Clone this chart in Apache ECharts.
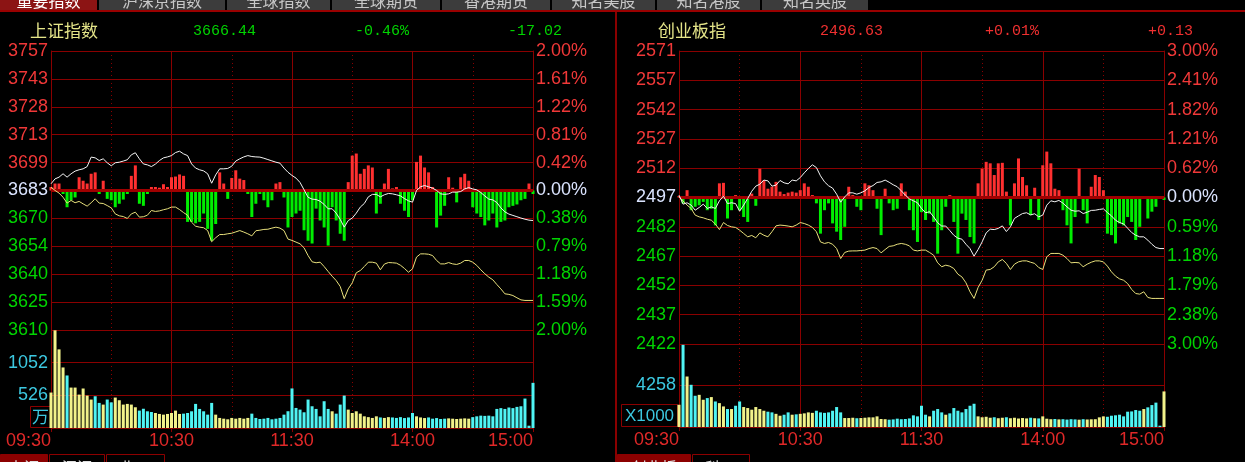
<!DOCTYPE html>
<html><head><meta charset="utf-8">
<script src="https://cdn.jsdelivr.net/npm/echarts@6/dist/echarts.min.js"></script>
<style>html,body{margin:0;padding:0;background:#000;}#c{width:1245px;height:462px;}</style>
</head><body><div id="c"></div><script>
// ---------- data (2-minute samples, 09:30 .. 15:00) ----------
const tabs = ['重要指数','沪深京指数','全球指数','全球期货','香港期货','知名美股','知名港股','知名英股'];
const headerL = ['上证指数','3666.44','-0.46%','-17.02'];
const headerR = ['创业板指','2496.63','+0.01%','+0.13'];
const bottomTabsL = ['上证','深证','北50'];
const bottomTabsR = ['创业板','科50'];
const timeLabels = ['09:30','10:30','11:30','14:00','15:00'];
const prevL = 3683.46, prevR = 2496.50;
const priceLabelsL = ['3610','3625','3640','3654','3670','3683','3699','3713','3728','3743','3757'];
const pctLabelsL = ['2.00%','1.59%','1.18%','0.79%','0.38%','0.00%','0.42%','0.81%','1.22%','1.61%','2.00%'];
const priceLabelsR = ['2422','2437','2452','2467','2482','2497','2512','2527','2542','2557','2571'];
const pctLabelsR = ['3.00%','2.38%','1.79%','1.18%','0.59%','0.00%','0.62%','1.21%','1.82%','2.41%','3.00%'];
const volLabelsL = ['', '526', '1052', ''];
const volLabelsR = ['', '4258', ''];
const volUnitL = '万', volUnitR = 'X1000';

const LW = [3687.0,3689.6,3690.5,3692.3,3690.5,3692.3,3693.7,3694.4,3694.9,3696.1,
3701.1,3700.7,3699.3,3700.2,3698.1,3696.5,3698.1,3698.4,3699.0,3699.7,
3702.3,3703.4,3700.2,3697.5,3697.0,3696.1,3697.4,3699.3,3700.7,3701.2,
3701.9,3703.5,3704.2,3702.8,3701.9,3697.5,3695.3,3694.4,3693.8,3692.3,
3687.3,3691.7,3694.9,3694.9,3695.1,3696.3,3699.0,3700.2,3701.2,3701.9,
3701.4,3701.2,3701.1,3700.5,3699.8,3699.1,3698.4,3697.9,3695.3,3693.1,
3691.4,3690.0,3687.7,3683.8,3679.9,3678.9,3678.7,3677.8,3676.1,3673.8,
3673.8,3671.5,3668.2,3664.1,3667.6,3668.9,3671.5,3674.7,3676.6,3680.1,
3681.4,3681.4,3680.1,3681.2,3681.9,3681.7,3681.2,3680.6,3679.2,3678.0,
3677.3,3683.5,3685.4,3686.1,3685.4,3684.7,3683.5,3681.7,3681.4,3681.7,
3682.6,3682.6,3682.9,3684.3,3685.0,3684.3,3683.8,3682.4,3680.6,3678.9,
3678.5,3677.1,3674.3,3672.2,3671.0,3670.3,3669.6,3668.9,3668.3,3667.8,3667.6];
const LY = [3685.2,3683.5,3682.1,3679.9,3676.8,3678.2,3677.0,3677.7,3676.4,3675.2,
3677.0,3679.1,3676.8,3676.6,3675.5,3674.3,3671.1,3670.1,3669.7,3668.7,
3671.1,3672.0,3669.4,3669.6,3670.4,3672.9,3672.4,3672.7,3673.3,3673.8,
3674.7,3674.7,3673.4,3671.8,3670.4,3666.7,3664.6,3664.1,3663.8,3662.3,
3656.4,3658.5,3660.2,3660.2,3660.6,3660.9,3661.6,3662.3,3661.5,3660.6,
3659.5,3662.2,3662.5,3662.9,3663.0,3663.6,3664.1,3663.6,3662.3,3657.8,
3657.1,3656.2,3655.3,3653.2,3649.1,3645.8,3645.3,3645.6,3643.3,3640.7,
3638.2,3635.9,3632.8,3626.3,3631.5,3634.7,3640.0,3641.2,3643.3,3645.6,
3645.6,3645.1,3641.6,3644.6,3645.4,3645.3,3645.1,3644.0,3642.3,3640.3,
3642.1,3648.3,3650.0,3650.0,3649.8,3649.1,3646.5,3644.7,3644.7,3645.4,
3644.7,3644.4,3645.1,3646.5,3646.5,3645.6,3643.9,3641.6,3639.5,3637.7,
3636.3,3633.8,3631.5,3628.9,3628.6,3628.0,3626.8,3625.7,3625.4,3625.4,3625.4];
const LRG = [0.05,0.10,0.10,-0.05,-0.24,-0.14,-0.10,0.19,0.14,0.10,
0.24,0.26,-0.05,0.14,-0.12,-0.14,-0.24,-0.19,-0.13,-0.05,
0.21,0.36,-0.19,-0.22,-0.05,0.05,0.05,0.04,0.09,0.05,
0.19,0.20,0.23,0.21,-0.45,-0.45,-0.47,-0.45,-0.33,-0.55,
-0.72,-0.48,0.26,0.10,-0.12,0.18,0.29,0.17,0.15,-0.05,
-0.38,-0.19,-0.05,-0.14,-0.24,-0.14,0.10,0.12,-0.10,-0.53,
-0.38,-0.33,-0.29,-0.57,-0.72,-0.76,-0.26,-0.43,-0.53,-0.79,
-0.24,-0.43,-0.62,-0.72,0.12,0.50,0.53,0.24,0.31,0.36,
0.33,-0.33,-0.19,0.10,0.31,0.03,0.05,-0.19,-0.29,-0.38,
-0.14,0.41,0.50,0.33,0.26,0.05,-0.53,-0.36,-0.22,0.19,
0.04,-0.17,0.19,0.24,0.14,-0.24,-0.33,-0.38,-0.50,-0.43,
-0.33,-0.53,-0.45,-0.43,-0.24,-0.22,-0.20,-0.14,-0.12,0.10,-0.05];
const LVOL = [571,1573,1266,975,846,651,651,538,636,522,
458,511,404,377,458,413,490,447,377,388,
377,334,280,310,269,258,242,226,215,226,
242,280,226,231,242,269,388,307,269,215,
404,215,162,150,140,162,150,162,150,162,
231,162,145,150,162,140,150,162,215,270,
637,323,296,253,458,350,307,188,431,307,
269,231,377,522,296,242,269,231,188,175,
162,188,170,162,175,170,162,175,160,170,
242,188,170,160,170,150,160,145,150,155,
150,145,150,155,150,175,188,199,195,199,
188,307,320,307,330,320,340,350,474,37,727];

const RW = [2497.7,2493.1,2493.8,2492.6,2490.0,2491.4,2493.1,2490.9,2491.7,2490.9,
2494.8,2497.2,2493.4,2493.8,2493.4,2489.5,2492.6,2496.0,2499.7,2502.3,
2503.3,2505.4,2505.0,2502.3,2502.8,2505.2,2504.0,2503.5,2505.4,2505.0,
2506.7,2509.1,2511.3,2513.2,2511.8,2507.6,2504.5,2502.5,2501.3,2498.2,
2494.1,2496.8,2498.9,2498.9,2498.2,2498.9,2499.9,2501.6,2502.6,2504.2,
2504.5,2505.4,2504.3,2503.0,2502.0,2499.9,2497.7,2495.8,2494.8,2493.8,
2490.9,2488.7,2489.2,2486.6,2483.6,2481.9,2481.9,2479.6,2477.2,2475.7,
2475.2,2472.6,2470.4,2466.5,2469.9,2473.8,2478.4,2480.3,2480.1,2480.7,
2482.0,2479.1,2481.5,2485.8,2487.1,2488.3,2488.7,2487.6,2488.2,2486.6,
2487.5,2492.6,2494.8,2494.3,2495.0,2493.6,2491.7,2490.0,2489.5,2489.7,
2488.3,2489.0,2489.9,2490.0,2490.4,2490.7,2488.8,2487.1,2484.9,2483.7,
2483.0,2480.8,2478.6,2477.2,2476.4,2476.4,2474.7,2472.6,2470.9,2470.4,2470.4];
const RY = [2496.8,2494.8,2492.6,2490.9,2487.5,2486.6,2486.1,2485.4,2484.9,2482.9,
2480.1,2483.7,2482.2,2481.5,2481.2,2479.8,2478.1,2476.4,2477.1,2475.9,
2478.4,2477.2,2476.4,2479.0,2482.0,2482.4,2482.2,2481.9,2481.5,2482.4,
2483.7,2483.2,2482.4,2481.2,2479.0,2473.8,2473.0,2473.5,2472.6,2470.4,
2465.3,2468.4,2469.1,2469.2,2469.2,2469.4,2469.6,2470.4,2470.9,2470.4,
2468.2,2469.9,2471.5,2471.8,2472.6,2473.0,2472.6,2471.8,2469.6,2469.2,
2469.6,2469.6,2468.4,2467.0,2463.1,2461.1,2461.9,2461.4,2460.2,2457.3,
2455.9,2452.9,2448.3,2444.9,2450.5,2454.2,2459.4,2459.7,2461.1,2463.6,
2464.8,2462.8,2459.7,2462.4,2463.6,2464.1,2464.1,2463.4,2462.8,2460.7,
2459.7,2466.2,2467.9,2467.9,2467.9,2467.0,2465.3,2463.1,2463.3,2463.1,
2461.1,2462.4,2463.4,2464.1,2464.1,2463.6,2461.4,2458.5,2456.3,2454.9,
2454.2,2452.5,2449.5,2447.4,2447.1,2448.3,2445.4,2444.9,2444.9,2444.9,2444.9];
const RRG = [0.03,-0.12,0.15,-0.26,-0.19,-0.16,-0.09,-0.26,-0.23,-0.57,
0.29,0.30,-0.43,-0.26,0.05,-0.26,-0.40,-0.50,0.08,-0.17,
0.59,0.35,0.18,0.22,0.32,0.12,0.07,0.10,0.12,0.10,
0.15,0.29,0.22,0.05,-0.12,-0.74,-0.26,-0.12,-0.53,-0.70,
-0.87,-0.60,0.22,0.05,-0.19,-0.26,0.29,0.25,0.15,-0.23,
-0.77,0.18,-0.12,-0.26,-0.23,0.29,0.12,-0.26,-0.67,-0.91,
-0.30,-0.46,-0.33,-0.50,-1.15,-0.67,-0.19,0.05,-0.50,-1.15,
-0.33,-0.46,-0.81,-0.94,0.29,0.59,0.73,0.70,0.46,0.70,
0.71,0.12,-0.57,0.29,0.80,0.42,0.25,-0.36,0.20,-0.46,
0.66,0.94,0.70,0.18,0.15,-0.26,-0.57,-0.94,-0.40,0.59,
-0.26,-0.53,0.22,0.46,0.42,0.15,-0.74,-0.77,-0.94,-0.53,
-0.57,-0.40,-0.50,-0.87,-0.60,0.03,-0.43,-0.29,-0.19,0.01,-0.05];
const RVOL = [2283,8430,5180,4330,3205,3300,2795,2966,3070,2620,
2450,2110,1843,1843,2180,2620,2048,1945,1775,2048,
1843,1669,1570,1500,1350,1157,1260,1500,1260,1300,
1350,1400,1500,1450,1669,1500,1450,1500,1669,2048,
1500,920,920,950,900,920,950,990,990,1090,
820,800,750,780,855,800,820,880,1194,1090,
2180,1260,1090,1669,1843,1500,1260,1400,1945,1669,
1500,1843,2180,2385,1090,1000,1050,950,1000,900,
950,1000,900,950,870,920,880,950,900,880,
1090,850,800,820,780,800,760,800,780,750,
800,770,790,800,990,1090,1050,1157,1200,1260,
1090,1570,1600,1740,1669,1843,2015,2250,2500,130,3650];

// ---------- styling ----------
const GRID = '#8a0000', ZERO = '#a00000';
const RED = '#f03838', GREEN = '#00d400', ZEROTXT = '#dbe4ff', CYAN = '#3cc8e0';
const VOL_UP = '#f2f28a', VOL_DN = '#50f4f4';
const LABEL_FONT = 'Liberation Sans, Arial, sans-serif';
const STEP = 2; // minutes per sample

const pct = (arr, prev) => arr.map((p, i) => [i * STEP, (p / prev - 1) * 100]);
const pairs = arr => arr.map((v, i) => [i * STEP, v]);
const volData = (vol, w) => vol.map((v, i) => ({
  value: [i * STEP, v],
  itemStyle: { color: (i > 0 && w[i] < w[i - 1]) ? VOL_DN : VOL_UP }
}));

function priceAxes(gridIndex, lim, priceLabels, pctLabels) {
  const step = lim / 5;
  const idx = v => Math.round((Number(v) + lim) / step);
  const col = v => { const k = idx(v); return k > 5 ? RED : (k < 5 ? GREEN : ZEROTXT); };
  return [{
    gridIndex, type: 'value', min: -lim, max: lim, interval: step, position: 'left',
    axisLine: { show: true, lineStyle: { color: GRID, width: 1 } }, axisTick: { show: false },
    splitLine: { show: true, lineStyle: { color: GRID, width: 1 } },
    axisLabel: { margin: 3, fontSize: 18, fontFamily: LABEL_FONT, color: col, formatter: v => priceLabels[idx(v)] }
  }, {
    gridIndex, type: 'value', min: -lim, max: lim, interval: step, position: 'right',
    axisLine: { show: true, lineStyle: { color: GRID, width: 1 } }, axisTick: { show: false },
    splitLine: { show: false },
    axisLabel: { margin: 3, fontSize: 18, fontFamily: LABEL_FONT, color: col, formatter: v => pctLabels[idx(v)] }
  }];
}
function volAxes(gridIndex, max, labels) {
  const step = max / (labels.length - 1);
  return [{
    gridIndex, type: 'value', min: 0, max, interval: step, position: 'left',
    axisLine: { show: true, lineStyle: { color: GRID } }, axisTick: { show: false },
    splitLine: { show: true, lineStyle: { color: GRID } },
    axisLabel: { margin: 3, fontSize: 18, fontFamily: LABEL_FONT, color: CYAN, formatter: v => labels[Math.round(Number(v) / step)] }
  }, {
    gridIndex, type: 'value', min: 0, max, interval: step, position: 'right',
    axisLine: { show: true, lineStyle: { color: GRID } }, axisTick: { show: false },
    splitLine: { show: false }, axisLabel: { show: false }
  }];
}
function timeAxis(gridIndex, withLabels) {
  return {
    gridIndex, type: 'value', min: 0, max: 240, interval: 60,
    axisLine: { show: withLabels, lineStyle: { color: GRID } },
    axisTick: { show: withLabels, length: 4, lineStyle: { color: GRID } },
    splitLine: { show: true, lineStyle: { color: GRID, width: 1 } },
    minorTick: { show: false, splitNumber: 2 },
    minorSplitLine: { show: true, lineStyle: { color: GRID, width: 1, type: [1, 3] } },
    axisLabel: withLabels ? {
      show: true, margin: 4, fontSize: 18, fontFamily: LABEL_FONT, color: '#e02828',
      alignMinLabel: 'right', alignMaxLabel: 'right',
      formatter: v => timeLabels[Math.round(Number(v) / 60)]
    } : { show: false }
  };
}
const rgSeries = (data, xi, yi) => ({
  type: 'bar', xAxisIndex: xi, yAxisIndex: yi, data: pairs(data), barWidth: 3,
  itemStyle: { color: p => p.value[1] >= 0 ? '#ff3030' : '#00ee00' }, animation: false,
  markLine: { silent: true, symbol: 'none', label: { show: false }, animation: false,
    lineStyle: { color: ZERO, width: 3, type: 'solid' },
    data: [{ yAxis: 0 }] }
});
const lineSeries = (data, xi, yi, color) => ({
  type: 'line', xAxisIndex: xi, yAxisIndex: yi, data, showSymbol: false, symbol: 'none',
  lineStyle: { color, width: 1 }, animation: false, z: 5
});
const volSeries = (vol, w, xi, yi) => ({
  type: 'bar', xAxisIndex: xi, yAxisIndex: yi, data: volData(vol, w), barWidth: 3, animation: false
});

// ---------- graphic (tabs, headers, boxes) ----------
const g = [];
const tabX = [[0,97],[99,225],[227,330],[332,440],[442,550],[552,655],[657,760],[762,868]];
tabs.forEach((t, i) => {
  const [a, b] = tabX[i];
  g.push({ type: 'rect', shape: { x: a, y: 0, width: b - a, height: 10 }, style: { fill: i === 0 ? '#8c1414' : '#3c3c3c' } });
  g.push({ type: 'text', x: (a + b) / 2, y: 1, style: { text: t, fill: i === 0 ? '#ffffff' : '#c8c8c8', font: '16px "Noto Sans CJK SC"', align: 'center', verticalAlign: 'middle' } });
});
g.push({ type: 'rect', shape: { x: 0, y: 10, width: 1245, height: 2 }, style: { fill: '#9a0000' } });
g.push({ type: 'rect', shape: { x: 615, y: 12, width: 2, height: 450 }, style: { fill: GRID } });
function header(h, xs, col) {
  g.push({ type: 'text', x: xs[0], y: 31, style: { text: h[0], fill: '#e4e488', font: '17px "Noto Sans CJK SC"', verticalAlign: 'middle' } });
  for (let k = 1; k < 4; k++)
    g.push({ type: 'text', x: xs[k], y: 31, style: { text: h[k], fill: col, font: '15px "Liberation Mono", monospace', verticalAlign: 'middle' } });
}
header(headerL, [30, 193, 355, 508], '#00d400');
header(headerR, [658, 820, 985, 1148], '#f03030');
function unitBox(txt, x, y, w, h) {
  g.push({ type: 'rect', shape: { x, y, width: w, height: h }, style: { fill: 'none', stroke: GRID, lineWidth: 1 } });
  g.push({ type: 'text', x: x + w / 2, y: y + h / 2 + 1, style: { text: txt, fill: CYAN, font: '17px "Liberation Sans", "Noto Sans CJK SC"', align: 'center', verticalAlign: 'middle' } });
}
unitBox(volUnitL, 30.5, 406.5, 20, 21);
unitBox(volUnitR, 621.5, 404.5, 56, 22);
function bottomTabs(list, xs) {
  list.forEach((t, i) => {
    const [a, b] = xs[i];
    g.push({ type: 'rect', shape: { x: a + 0.5, y: 454.5, width: b - a - 1, height: 10 }, style: { fill: i === 0 ? '#8c0000' : '#000', stroke: '#8c0000', lineWidth: 1 } });
    g.push({ type: 'text', x: (a + b) / 2, y: 467, style: { text: t, fill: '#e0e0e0', font: '15px "Noto Sans CJK SC"', align: 'center', verticalAlign: 'middle' } });
  });
}
bottomTabs(bottomTabsL, [[0,48],[49,105],[106,165]]);
bottomTabs(bottomTabsR, [[617,691],[692,750]]);

const option = {
  backgroundColor: '#000',
  animation: false,
  grid: [
    { left: 51, top: 51, width: 482, height: 279 },
    { left: 51, top: 330, width: 482, height: 98 },
    { left: 679, top: 51, width: 485, height: 293 },
    { left: 679, top: 344, width: 485, height: 83 }
  ],
  xAxis: [timeAxis(0, false), timeAxis(1, true), timeAxis(2, false), timeAxis(3, true)],
  yAxis: [
    ...priceAxes(0, 2, priceLabelsL, pctLabelsL),
    ...volAxes(1, 1578, volLabelsL),
    ...priceAxes(2, 3, priceLabelsR, pctLabelsR),
    ...volAxes(3, 8516, volLabelsR)
  ],
  series: [
    rgSeries(LRG, 0, 0),
    lineSeries(pct(LY, prevL), 0, 0, '#e8e07c'),
    lineSeries(pct(LW, prevL), 0, 0, '#f4f4f4'),
    volSeries(LVOL, LW, 1, 2),
    rgSeries(RRG, 2, 4),
    lineSeries(pct(RY, prevR), 2, 4, '#e8e07c'),
    lineSeries(pct(RW, prevR), 2, 4, '#f4f4f4'),
    volSeries(RVOL, RW, 3, 6)
  ],
  graphic: g
};
const chart = echarts.init(document.getElementById('c'), null, { renderer: 'canvas' });
chart.setOption(option);
</script></body></html>
